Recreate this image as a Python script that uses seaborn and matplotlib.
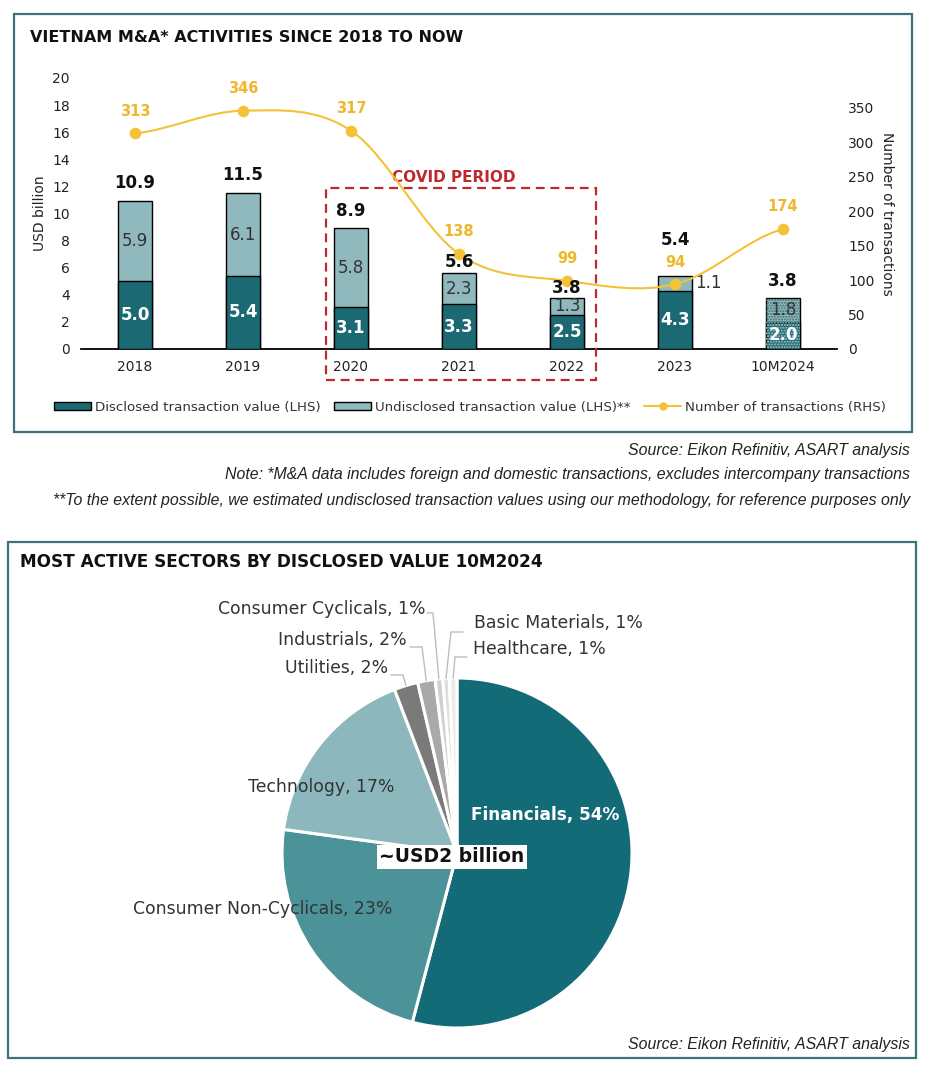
import numpy as np
import pandas as pd
import matplotlib
matplotlib.use("Agg")
import matplotlib.pyplot as plt
import seaborn as sns
from matplotlib.path import Path
from matplotlib.patches import PathPatch, Rectangle
from matplotlib.lines import Line2D
from matplotlib.patches import Patch
from matplotlib import font_manager

# ---------------- data ----------------
periods = ["2018", "2019", "2020", "2021", "2022", "2023", "10M2024"]
disclosed = [5.0, 5.4, 3.1, 3.3, 2.5, 4.3, 2.0]
undisclosed = [5.9, 6.1, 5.8, 2.3, 1.3, 1.1, 1.8]
totals = [10.9, 11.5, 8.9, 5.6, 3.8, 5.4, 3.8]
transactions = [313, 346, 317, 138, 99, 94, 174]

left_ticks = [0, 2, 4, 6, 8, 10, 12, 14, 16, 18, 20]
right_ticks = [0, 50, 100, 150, 200, 250, 300, 350]

sectors = ["Financials", "Consumer Non-Cyclicals", "Technology", "Utilities",
           "Industrials", "Consumer Cyclicals", "Basic Materials", "Healthcare"]
sector_share = [54, 23, 17, 2.2, 1.6, 0.7, 0.6, 0.7]
sector_pct = ["54%", "23%", "17%", "2%", "2%", "1%", "1%", "1%"]

# ---------------- style ----------------
sns.set_theme(style="white")
plt.rcParams["font.family"] = ["DejaVu Sans"]
installed = {f.name for f in font_manager.fontManager.ttflist}
NOTE_FONT = [f for f in ["Liberation Sans Narrow", "Liberation Sans", "DejaVu Sans"] if f in installed]

DIS = "#1b6a73"
UND = "#8fb9bd"
YEL = "#f4c236"
YEL_T = "#f0b62c"
RED = "#c0282d"
BOX = "#3b7379"
INK = "#222222"
GREY_T = "#333333"
pie_colors = ["#146b78", "#4b9299", "#8cb8bd", "#7a7a7a", "#a9a9a9",
              "#cfcfcf", "#dedede", "#ebebeb"]

W, H = 925, 1065
fig = plt.figure(figsize=(W / 100, H / 100), dpi=100)


def fpos(x, y):
    return x / W, 1 - y / H


def fbox(x0, y0, x1, y1):
    return [x0 / W, 1 - y1 / H, (x1 - x0) / W, (y1 - y0) / H]


# panel frames
for (x0, y0, x1, y1) in [(14, 14, 912, 432), (8, 542, 916, 1058)]:
    fig.add_artist(Rectangle((x0 / W, 1 - y1 / H), (x1 - x0) / W, (y1 - y0) / H,
                             transform=fig.transFigure, fill=False, ec=BOX, lw=1.6))

fig.text(*fpos(30, 37), "VIETNAM M&A* ACTIVITIES SINCE 2018 TO NOW", fontsize=11.5,
         fontweight="bold", color="#111111", ha="left", va="center")
fig.text(*fpos(20, 562), "MOST ACTIVE SECTORS BY DISCLOSED VALUE 10M2024", fontsize=12.2,
         fontweight="bold", color="#111111", ha="left", va="center")

# ---------------- bar chart ----------------
ax = fig.add_axes(fbox(81, 78, 837, 349))
df = pd.DataFrame({"period": periods, "total": totals, "disclosed": disclosed})
bw = 0.32
sns.barplot(data=df, x="period", y="total", color=UND, saturation=1, width=bw,
            edgecolor="black", linewidth=1.0, errorbar=None, ax=ax, zorder=2)
sns.barplot(data=df, x="period", y="disclosed", color=DIS, saturation=1, width=bw,
            edgecolor="black", linewidth=1.0, errorbar=None, ax=ax, zorder=3)

# dotted texture on the partial-year bar
n = len(periods)
for k, p in enumerate(list(ax.patches)):
    if k % n == n - 1:
        hc = "#3d6f74" if k < n else "#9fc4c7"
        ax.add_patch(Rectangle(p.get_xy(), p.get_width(), p.get_height(), facecolor="none",
                               hatch="......", edgecolor=hc, lw=0, zorder=4))

ax.set_xlim(-0.5, n - 0.5)
ax.set_ylim(0, 20)
ax.set_yticks(left_ticks)
ax.set_xlabel("")
ax.set_ylabel("USD billion", fontsize=10, color=INK, labelpad=4)
ax.tick_params(axis="both", length=0, labelsize=10, colors=INK)
ax.tick_params(axis="x", pad=8)
ax.tick_params(axis="y", pad=8)
for s in ["top", "right", "left"]:
    ax.spines[s].set_visible(False)
ax.spines["bottom"].set_color("black")
ax.spines["bottom"].set_linewidth(1.3)

# right axis: number of transactions (smoothed line)
ax2 = ax.twinx()
ax2.set_ylim(0, 393.5)
ax2.set_yticks(right_ticks)
ax2.tick_params(axis="y", length=0, labelsize=10, colors=INK, pad=8)
for s in ax2.spines.values():
    s.set_visible(False)
ax2.set_ylabel("Number of transactions", fontsize=10, color=INK, rotation=270,
               va="bottom", labelpad=4)

xs = np.arange(n, dtype=float)
ys = np.array(transactions, dtype=float)
m = np.zeros(n)
m[1:-1] = (ys[2:] - ys[:-2]) / 2
m[0] = (ys[1] - ys[0]) / 2
m[-1] = (ys[-1] - ys[-2]) / 2
verts = [(xs[0], ys[0])]
codes = [Path.MOVETO]
for i in range(n - 1):
    verts += [(xs[i] + 1 / 3, ys[i] + m[i] / 3), (xs[i + 1] - 1 / 3, ys[i + 1] - m[i + 1] / 3),
              (xs[i + 1], ys[i + 1])]
    codes += [Path.CURVE4] * 3
ax2.add_patch(PathPatch(Path(verts, codes), fill=False, ec=YEL, lw=1.5, zorder=3))
sns.scatterplot(x=xs, y=ys, ax=ax2, color=YEL, s=70, edgecolor=YEL, linewidth=0, zorder=4)
for i in range(n):
    ax2.annotate(f"{transactions[i]}", (xs[i], ys[i]), xytext=(0, 16), textcoords="offset points",
                 ha="center", va="center", fontsize=10.5, fontweight="bold", color=YEL_T)
ax2.set_xlim(-0.5, n - 0.5)

# bar value labels (drawn on the upper axes so they sit above the line)
total_off = [1.33, 1.33, 1.25, 0.82, 0.72, 2.64, 1.25]
yconv = 393.5 / 20
for i in range(n):
    ax2.text(i, (totals[i] + total_off[i]) * yconv, f"{totals[i]:.1f}", ha="center", va="center",
             fontsize=12, fontweight="bold", color="#111111", zorder=6)
    ax.text(i, disclosed[i] / 2, f"{disclosed[i]:.1f}", ha="center", va="center",
            fontsize=12, fontweight="bold", color="white", zorder=6)
    if i == 5:
        ax.text(i + bw / 2 + 0.03, disclosed[i] + undisclosed[i] / 2, f"{undisclosed[i]:.1f}",
                ha="left", va="center", fontsize=12, color=GREY_T, zorder=6)
    else:
        ax.text(i, disclosed[i] + undisclosed[i] / 2, f"{undisclosed[i]:.1f}", ha="center",
                va="center", fontsize=12, color=GREY_T, zorder=6)

# covid box
ax.add_patch(Rectangle((1.77, -2.3), 2.5, 14.2, fill=False, ec=RED, lw=1.6,
                       ls=(0, (4, 2.6)), clip_on=False, zorder=5))
ax.text(2.95, 12.65, "COVID PERIOD", ha="center", va="center", fontsize=11,
        fontweight="bold", color=RED)

# legend
handles = [Patch(facecolor=DIS, edgecolor="black", lw=1.0),
           Patch(facecolor=UND, edgecolor="black", lw=1.0),
           Line2D([0], [0], color=YEL, lw=1.5, marker="o", markersize=5)]
labels = ["Disclosed transaction value (LHS)", "Undisclosed transaction value (LHS)**",
          "Number of transactions (RHS)"]
fig.legend(handles, labels, loc="center", bbox_to_anchor=fpos(470, 407), ncol=3,
           frameon=False, fontsize=9.6, handlelength=2.8, handleheight=0.6,
           columnspacing=1.0, handletextpad=0.3, labelcolor=GREY_T)

# notes (font size fitted so the longest line spans the same width as in the original)
notes = ["Source: Eikon Refinitiv, ASART analysis",
         "Note: *M&A data includes foreign and domestic transactions, excludes intercompany transactions",
         "**To the extent possible, we estimated undisclosed transaction values using our methodology, for reference purposes only"]
renderer = fig.canvas.get_renderer()
probe = fig.text(0, 0, notes[2], fontsize=10, style="italic", family=NOTE_FONT)
wpx = probe.get_window_extent(renderer).width
probe.remove()
note_fs = 10 * 860 / wpx
for t, yy in zip(notes, [450, 475, 501]):
    fig.text(*fpos(910, yy), t, ha="right", va="center", fontsize=note_fs, style="italic",
             family=NOTE_FONT, color="#222222")
fig.text(*fpos(910, 1044), notes[0], ha="right", va="center", fontsize=note_fs, style="italic",
         family=NOTE_FONT, color="#222222")

# ---------------- pie chart ----------------
CX, CY, R = 457, 853, 175
PX0, PY0, PX1, PY1 = 100, 590, 814, 1040
pax = fig.add_axes(fbox(PX0, PY0, PX1, PY1))
wedges, _ = pax.pie(sector_share, colors=pie_colors, startangle=90, counterclock=False,
                    radius=1, wedgeprops=dict(edgecolor="white", linewidth=2.2))
pax.set_aspect("auto")
pax.set_xlim(-(CX - PX0) / R, (PX1 - CX) / R)
pax.set_ylim(-(PY1 - CY) / R, (CY - PY0) / R)
pax.axis("off")


def d(x, y):
    return (x - CX) / R, (CY - y) / R


PFS = 12.4
lab = {s: f"{s}, {p}" for s, p in zip(sectors, sector_pct)}
pax.text(*d(545, 815), lab["Financials"], ha="center", va="center", fontsize=12.2,
         fontweight="bold", color="white")
pax.text(*d(395, 787), lab["Technology"], ha="right", va="center", fontsize=PFS, color=GREY_T)
pax.text(*d(392, 909), lab["Consumer Non-Cyclicals"], ha="right", va="center", fontsize=PFS,
         color=GREY_T)
pax.text(*d(452, 857), "~USD2 billion", ha="center", va="center", fontsize=13.5,
         fontweight="bold", color="#111111",
         bbox=dict(boxstyle="square,pad=0.15", fc="white", ec="none"))

# small slices with leader lines: (text x, text y, ha, leader y, leader start x, elbow x)
small = {"Utilities": (388, 668, "right", 675, 391, 403),
         "Industrials": (407, 640, "right", 647, 410, 422),
         "Consumer Cyclicals": (425, 609, "right", 613, 427, 433),
         "Basic Materials": (474, 623, "left", 632, 463, 451),
         "Healthcare": (473, 649, "left", 657, 467, 455)}
for name, (tx, ty, ha, ly, sx, ex) in small.items():
    w = wedges[sectors.index(name)]
    th = np.deg2rad((w.theta1 + w.theta2) / 2)
    wx, wy = np.cos(th), np.sin(th)
    pax.text(*d(tx, ty), lab[name], ha=ha, va="center", fontsize=PFS, color=GREY_T)
    p1 = d(sx, ly)
    p2 = d(ex, ly)
    pax.plot([p1[0], p2[0], wx], [p1[1], p2[1], wy], color="#bdbdbd", lw=1.0,
             solid_joinstyle="miter")

fig.savefig("out.png", dpi=100)
